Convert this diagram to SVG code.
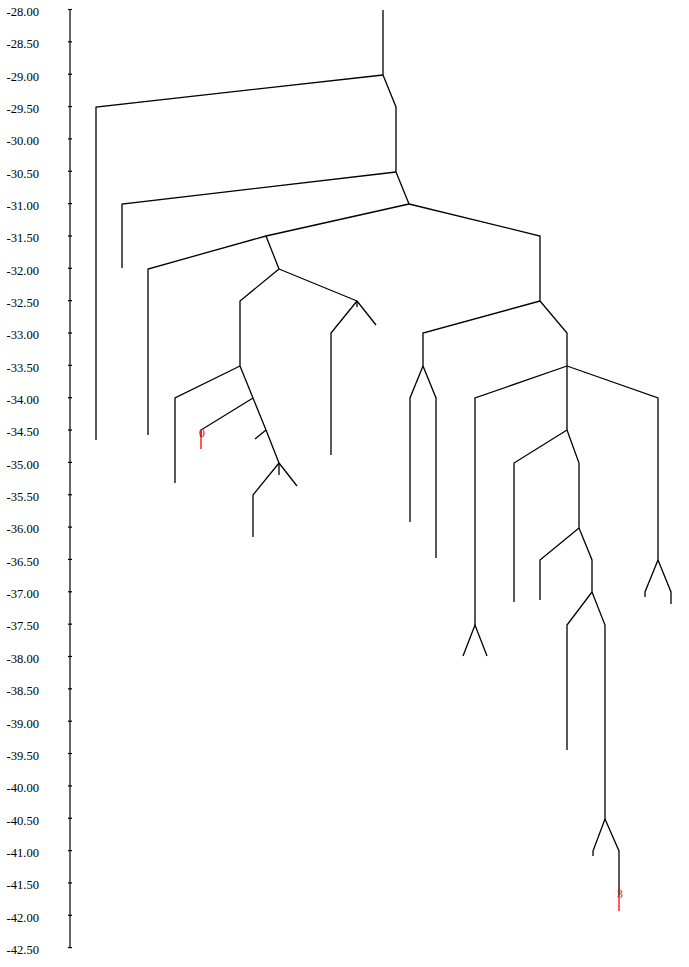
<svg xmlns="http://www.w3.org/2000/svg" width="689" height="967" viewBox="0 0 689 967">
<style>
.ax{stroke:#000;stroke-width:1.2;fill:none}
.lbl text{font-family:"Liberation Serif","Times New Roman",serif;font-size:12.6px;fill:#000;text-anchor:end}
.br{stroke:#000;stroke-width:1.3;fill:none;stroke-linejoin:miter}
.red{stroke:#ff0000;stroke-width:1.3;fill:none}
.rt{font-family:"Liberation Serif","Times New Roman",serif;font-size:12px;fill:#ff0000}
</style>
<rect width="689" height="967" fill="#fff"/>
<g id="axis">
<line class="ax" x1="70" y1="9.5" x2="70" y2="947.7"/>
<g class="ax">
<line x1="68" y1="9.5" x2="72" y2="9.5"/><line x1="68" y1="41.85" x2="72" y2="41.85"/><line x1="68" y1="74.2" x2="72" y2="74.2"/><line x1="68" y1="106.55" x2="72" y2="106.55"/><line x1="68" y1="138.9" x2="72" y2="138.9"/><line x1="68" y1="171.25" x2="72" y2="171.25"/><line x1="68" y1="203.6" x2="72" y2="203.6"/><line x1="68" y1="235.95" x2="72" y2="235.95"/><line x1="68" y1="268.3" x2="72" y2="268.3"/><line x1="68" y1="300.65" x2="72" y2="300.65"/><line x1="68" y1="333" x2="72" y2="333"/><line x1="68" y1="365.35" x2="72" y2="365.35"/><line x1="68" y1="397.7" x2="72" y2="397.7"/><line x1="68" y1="430.05" x2="72" y2="430.05"/><line x1="68" y1="462.4" x2="72" y2="462.4"/><line x1="68" y1="494.75" x2="72" y2="494.75"/><line x1="68" y1="527.1" x2="72" y2="527.1"/><line x1="68" y1="559.45" x2="72" y2="559.45"/><line x1="68" y1="591.8" x2="72" y2="591.8"/><line x1="68" y1="624.15" x2="72" y2="624.15"/><line x1="68" y1="656.5" x2="72" y2="656.5"/><line x1="68" y1="688.85" x2="72" y2="688.85"/><line x1="68" y1="721.2" x2="72" y2="721.2"/><line x1="68" y1="753.55" x2="72" y2="753.55"/><line x1="68" y1="785.9" x2="72" y2="785.9"/><line x1="68" y1="818.25" x2="72" y2="818.25"/><line x1="68" y1="850.6" x2="72" y2="850.6"/><line x1="68" y1="882.95" x2="72" y2="882.95"/><line x1="68" y1="915.3" x2="72" y2="915.3"/><line x1="68" y1="947.65" x2="72" y2="947.65"/>
</g>
<g class="lbl">
<text x="39" y="15.8">-28.00</text><text x="39" y="48.1">-28.50</text><text x="39" y="80.5">-29.00</text><text x="39" y="112.8">-29.50</text><text x="39" y="145.2">-30.00</text><text x="39" y="177.5">-30.50</text><text x="39" y="209.9">-31.00</text><text x="39" y="242.2">-31.50</text><text x="39" y="274.6">-32.00</text><text x="39" y="306.9">-32.50</text><text x="39" y="339.3">-33.00</text><text x="39" y="371.6">-33.50</text><text x="39" y="404">-34.00</text><text x="39" y="436.3">-34.50</text><text x="39" y="468.7">-35.00</text><text x="39" y="501">-35.50</text><text x="39" y="533.4">-36.00</text><text x="39" y="565.7">-36.50</text><text x="39" y="598.1">-37.00</text><text x="39" y="630.4">-37.50</text><text x="39" y="662.8">-38.00</text><text x="39" y="695.1">-38.50</text><text x="39" y="727.5">-39.00</text><text x="39" y="759.8">-39.50</text><text x="39" y="792.2">-40.00</text><text x="39" y="824.5">-40.50</text><text x="39" y="856.9">-41.00</text><text x="39" y="889.2">-41.50</text><text x="39" y="921.6">-42.00</text><text x="39" y="953.9">-42.50</text>
</g>
</g>
<g id="connectors" class="br">
<polyline points="383,10 383,75"/>
<polyline points="383,75 96,107 96,440"/>
<polyline points="383,75 396,107 396,172"/>
<polyline points="396,172 122,204 122,268"/>
<polyline points="396,172 409,204"/>
<polyline points="409,204 266,236"/>
<polyline points="266,236 148,269 148,435"/>
<polyline points="266,236 279,269"/>
<polyline points="279,269 240,301 240,366"/>
<polyline points="279,269 357,301"/>
<polyline points="357,301 331,333 331,455"/>
<polyline points="357,301 376,325"/>
<polyline points="357,301 357,307"/>
<polyline points="240,366 175,398 175,483"/>
<polyline points="240,366 253,398"/>
<polyline points="253,398 201,430 201,437"/>
<polyline points="253,398 266,430"/>
<polyline points="266,430 255,439"/>
<polyline points="266,430 279,463"/>
<polyline points="279,463 253,495 253,537"/>
<polyline points="279,463 297,486"/>
<polyline points="279,463 279,475"/>
<polyline points="409,204 540,236 540,301"/>
<polyline points="540,301 423,333 423,366"/>
<polyline points="423,366 410,398 410,522"/>
<polyline points="423,366 436,398 436,558"/>
<polyline points="540,301 567,333 567,366"/>
<polyline points="567,366 475,398 475,625"/>
<polyline points="463,656 475,625 487,656"/>
<polyline points="567,366 658,398 658,560"/>
<polyline points="658,560 645,592 645,597"/>
<polyline points="658,560 671,592 671,604"/>
<polyline points="567,366 567,430"/>
<polyline points="567,430 514,463 514,602"/>
<polyline points="567,430 579,463 579,528"/>
<polyline points="579,528 540,560 540,600"/>
<polyline points="579,528 592,560 592,592"/>
<polyline points="592,592 567,625 567,750"/>
<polyline points="592,592 605,625 605,819"/>
<polyline points="605,819 593,851 593,856"/>
<polyline points="605,819 619,851 619,897"/>
</g>
<g id="leaf0">
<line class="red" x1="201" y1="437" x2="201" y2="449"/>
<text class="rt" x="199" y="437">0</text>
</g>
<g id="leaf3">
<line class="red" x1="619" y1="898" x2="619" y2="911"/>
<text class="rt" x="617" y="898">3</text>
</g>
</svg>
